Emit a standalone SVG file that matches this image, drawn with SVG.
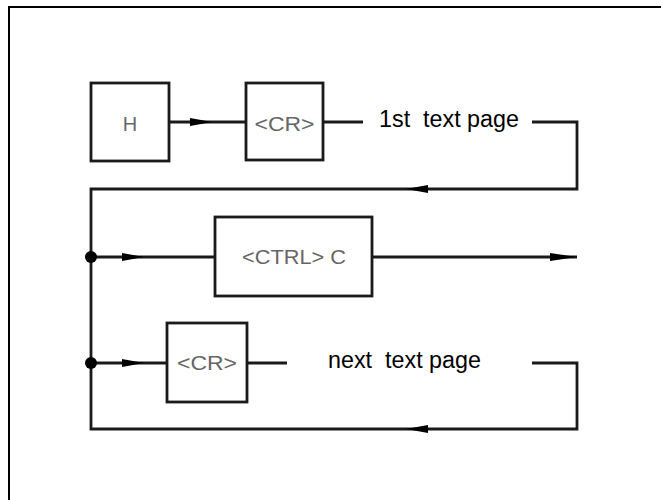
<svg xmlns="http://www.w3.org/2000/svg" width="661" height="500" viewBox="0 0 661 500">
<defs>
<style>
.frame{fill:none;stroke:#000;stroke-width:2}
.box{fill:#fff;stroke:#1a1a1a;stroke-width:2.8}
.ln{fill:none;stroke:#1a1a1a;stroke-width:2.8}
.lbl{font-family:"Liberation Sans",Arial,sans-serif;font-size:20px;fill:#666;text-anchor:middle}
.txt{font-family:"Liberation Sans",Arial,sans-serif;font-size:23px;fill:#000;white-space:pre}
.arr{fill:#000}
</style>
</defs>
<rect class="frame" x="9" y="7" width="670" height="510"/>
<g id="connectors">
<path class="ln" d="M169 122 H246"/>
<path class="ln" d="M323 122 H363"/>
<path class="ln" d="M532 122 H577 V189 H91 V429 H577 V363 H532"/>
<path class="ln" d="M91 257 H215"/>
<path class="ln" d="M372 257 H577"/>
<path class="ln" d="M91 363 H167"/>
<path class="ln" d="M247 363 H287"/>
<circle class="arr" cx="91" cy="257" r="6"/>
<circle class="arr" cx="91" cy="363" r="6"/>
<polygon class="arr" points="190,118 212,122 190,126"/>
<polygon class="arr" points="122,253 144,257 122,261"/>
<polygon class="arr" points="122,359 144,363 122,367"/>
<polygon class="arr" points="550,253 577,257 550,261"/>
<polygon class="arr" points="428,185 406,189 428,193"/>
<polygon class="arr" points="428,425 406,429 428,433"/>
</g>
<g id="node-h">
<rect class="box" x="91" y="83" width="78" height="78"/>
<text class="lbl" x="130" y="131">H</text>
</g>
<g id="node-cr1">
<rect class="box" x="246" y="83" width="77" height="77"/>
<text class="lbl" x="284.5" y="131" textLength="60" lengthAdjust="spacingAndGlyphs">&lt;CR&gt;</text>
</g>
<g id="label-1st">
<text class="txt" x="379" y="127" xml:space="preserve" textLength="140" lengthAdjust="spacingAndGlyphs">1st  text page</text>
</g>
<g id="node-ctrlc">
<rect class="box" x="215" y="217" width="157" height="79"/>
<text class="lbl" x="294" y="264" textLength="104" lengthAdjust="spacingAndGlyphs">&lt;CTRL&gt; C</text>
</g>
<g id="node-cr2">
<rect class="box" x="167" y="323" width="80" height="79"/>
<text class="lbl" x="207" y="370" textLength="60" lengthAdjust="spacingAndGlyphs">&lt;CR&gt;</text>
</g>
<g id="label-next">
<text class="txt" x="328" y="368" xml:space="preserve" textLength="153" lengthAdjust="spacingAndGlyphs">next  text page</text>
</g>
</svg>
